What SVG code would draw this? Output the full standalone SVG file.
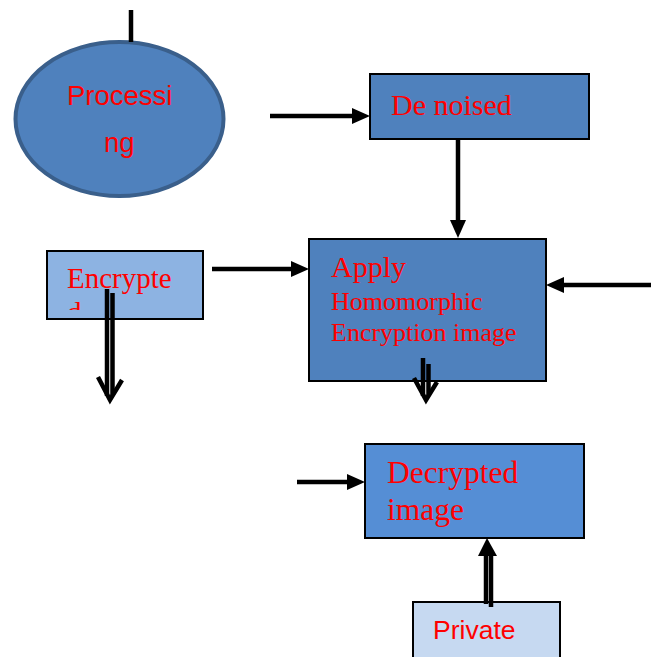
<svg xmlns="http://www.w3.org/2000/svg" width="651" height="657" viewBox="0 0 651 657">
<style>
.box{stroke:#000;stroke-width:2}
.serif{font-family:"Liberation Serif","Times New Roman",serif;fill:#ff0000}
.sans{font-family:"Liberation Sans",Arial,sans-serif;fill:#ff0000}
.ln{stroke:#000;stroke-width:4.5;fill:none}
.hd{fill:#000}
</style>
<defs>
<clipPath id="encClip"><rect x="48" y="252" width="154" height="58"/></clipPath>
</defs>
<rect width="651" height="657" fill="#fff"/>
<g id="processing">
<ellipse cx="119.5" cy="119" rx="104" ry="77" fill="#4f81bd" stroke="#3a5f8b" stroke-width="4"/>
<text class="sans" x="67" y="105" font-size="27.5">Processi</text>
<text class="sans" x="104" y="152" font-size="27.5">ng</text>
</g>
<g id="denoised">
<rect class="box" x="370" y="74" width="219" height="65" fill="#4f81bd"/>
<text class="serif" x="391" y="115" font-size="30">De noised</text>
</g>
<g id="apply">
<rect class="box" x="309" y="239" width="237" height="142" fill="#4f81bd"/>
<text class="serif" x="331" y="277" font-size="30">Apply</text>
<text class="serif" x="331" y="310" font-size="26">Homomorphic</text>
<text class="serif" x="331" y="341" font-size="26">Encryption image</text>
</g>
<g id="encrypted">
<rect class="box" x="47" y="251" width="156" height="68" fill="#8db3e2"/>
<g clip-path="url(#encClip)">
<text class="serif" x="67" y="288" font-size="29">Encrypte</text>
<text class="serif" x="67" y="322" font-size="29">d</text>
</g>
</g>
<g id="decrypted">
<rect class="box" x="365" y="444" width="219" height="94" fill="#558ed5"/>
<text class="serif" x="387" y="483" font-size="31.5">Decrypted</text>
<text class="serif" x="387" y="520" font-size="31.5">image</text>
</g>
<g id="private">
<rect class="box" x="413" y="602" width="147" height="60" fill="#c6d9f1"/>
<text class="sans" x="433" y="639" font-size="26.5">Private</text>
</g>
<g id="connectors">
<line class="ln" x1="131" y1="10" x2="131" y2="42" stroke-width="5"/>
<line class="ln" x1="270" y1="116" x2="354" y2="116"/>
<polygon class="hd" points="352,108 370,116 352,124"/>
<line class="ln" x1="458" y1="139" x2="458" y2="222"/>
<polygon class="hd" points="450,220 458,238 466,220"/>
<line class="ln" x1="212" y1="269" x2="293" y2="269"/>
<polygon class="hd" points="291,261 309,269 291,277"/>
<line class="ln" x1="651" y1="285" x2="562" y2="285"/>
<polygon class="hd" points="564,277 546,285 564,293"/>
<line class="ln" x1="107" y1="289" x2="107" y2="396" stroke-width="5"/>
<line class="ln" x1="112.5" y1="293" x2="112.5" y2="396" stroke-width="5"/>
<polyline class="ln" points="98,377 110,400 122,380" stroke-width="5.5"/>
<line class="ln" x1="423" y1="358" x2="423" y2="396" stroke-width="5"/>
<line class="ln" x1="428.5" y1="364" x2="428.5" y2="396" stroke-width="5"/>
<polyline class="ln" points="414,378 426,400 437,382" stroke-width="5.5"/>
<line class="ln" x1="297" y1="482" x2="349" y2="482"/>
<polygon class="hd" points="347,474 365,482 347,490"/>
<line class="ln" x1="486" y1="604" x2="486" y2="552" stroke-width="5"/>
<line class="ln" x1="491" y1="607" x2="491" y2="552" stroke-width="5"/>
<polygon class="hd" points="478,556 487,538 497,556"/>
</g>
</svg>
